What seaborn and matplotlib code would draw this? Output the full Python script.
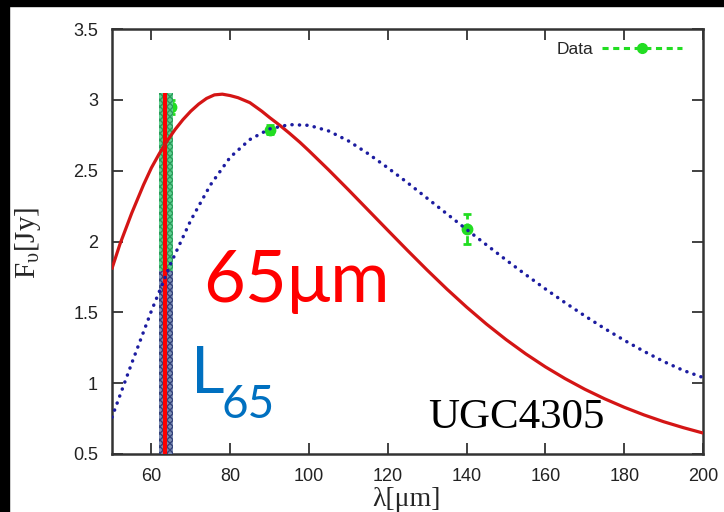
import matplotlib
matplotlib.use("Agg")
import matplotlib.pyplot as plt
from matplotlib.lines import Line2D
from matplotlib.patches import Rectangle
import seaborn as sns
import pandas as pd

# ---- data ----
red_wl = [50, 52, 55, 58, 60, 62, 64, 66, 68, 70, 72, 74, 76, 78, 80, 82, 85, 88, 90, 92.6,
          95, 97.7, 100, 105, 110, 115, 120, 125, 130, 135, 140, 145, 150, 155, 160, 165,
          170, 175, 180, 185, 190, 195, 200]
red_flux = [1.81, 1.98, 2.20, 2.40, 2.52, 2.62, 2.71, 2.79, 2.86, 2.92, 2.97, 3.01, 3.035,
            3.04, 3.03, 3.015, 2.98, 2.92, 2.875, 2.82, 2.765, 2.70, 2.64, 2.505, 2.365,
            2.222, 2.079, 1.937, 1.798, 1.664, 1.537, 1.418, 1.308, 1.207, 1.115, 1.032,
            0.957, 0.890, 0.830, 0.776, 0.728, 0.686, 0.648]

blue_wl = [50, 55, 60, 65, 70, 75, 80, 85, 90, 95, 100, 105, 110, 115, 120, 125, 130, 135,
           140, 145, 150, 155, 160, 165, 170, 175, 180, 185, 190, 195, 200]
blue_flux = [0.76, 1.14, 1.51, 1.85, 2.15, 2.40, 2.595, 2.72, 2.795, 2.825, 2.82, 2.78, 2.71,
             2.62, 2.52, 2.415, 2.305, 2.195, 2.085, 1.977, 1.870, 1.766, 1.665, 1.568,
             1.475, 1.386, 1.303, 1.225, 1.153, 1.090, 1.040]

data_wl = [65, 90, 140]
data_flux = [2.95, 2.79, 2.09]
data_err = [0.05, 0.03, 0.105]

band_center = 63.7
band_width = 3.6
band_top = 3.05
band_split = 1.79
band_bottom = 0.5
line_wl = 63.5

x_ticks = [60, 80, 100, 120, 140, 160, 180, 200]
y_ticks = [0.5, 1, 1.5, 2, 2.5, 3, 3.5]
y_tick_labels = ["0.5", "1", "1.5", "2", "2.5", "3", "3.5"]

# ---- style ----
sns.set_style("ticks")
plt.rcParams["font.family"] = ["Liberation Sans", "DejaVu Sans"]
plt.rcParams["mathtext.fontset"] = "custom"
plt.rcParams["mathtext.rm"] = "Liberation Serif"
plt.rcParams["mathtext.it"] = "Liberation Serif:italic"

fig = plt.figure(figsize=(7.24, 5.12), dpi=100, facecolor="white")
ax = fig.add_axes([112 / 724, 1 - 454 / 512, (703 - 112) / 724, (454 - 29) / 512])

# black frame strips (top and left)
fig.patches.append(Rectangle((0, 1 - 6 / 512), 1, 6 / 512, transform=fig.transFigure,
                             color="black", zorder=10))
fig.patches.append(Rectangle((0, 0), 9 / 724, 1, transform=fig.transFigure,
                             color="black", zorder=10))

green = "#22dd22"

# data points (behind the band)
eb = ax.errorbar(data_wl, data_flux, yerr=data_err, fmt="o", color=green, ms=7.5,
                 elinewidth=2, capsize=3, capthick=2, zorder=2)
eb[2][0].set_linestyle((0, (3, 1.5)))

# band
ax.bar(band_center, band_top - band_split, bottom=band_split, width=band_width,
       color="#5fd090", edgecolor="#2a9a5a", hatch="xxxxx", linewidth=0, zorder=3)
ax.bar(band_center, band_split - band_bottom, bottom=band_bottom, width=band_width,
       color="#7f8fb5", edgecolor="#34427a", hatch="xxxxx", linewidth=0, zorder=3)
ax.vlines(line_wl, band_bottom, band_top, color="#ff0000", lw=3, zorder=4)

# curves
df_red = pd.DataFrame({"wl": red_wl, "flux": red_flux})
df_blue = pd.DataFrame({"wl": blue_wl, "flux": blue_flux})
sns.lineplot(data=df_red, x="wl", y="flux", ax=ax, color="#d41515", lw=2.3, zorder=5,
             sort=True, estimator=None)
red_line = ax.lines[-1]
red_line.set_solid_joinstyle("round")
sns.lineplot(data=df_blue, x="wl", y="flux", ax=ax, color="#1c1ca0", lw=2.5, zorder=5,
             sort=True, estimator=None)
blue_line = ax.lines[-1]
blue_line.set_linestyle((0, (0.05, 2.1)))
blue_line.set_dash_capstyle("round")

ax.set_xlim(50, 200)
ax.set_ylim(0.5, 3.5)
ax.set_xticks(x_ticks)
ax.set_yticks(y_ticks)
ax.set_yticklabels(y_tick_labels)
ax.tick_params(direction="in", length=8, width=1.3, color="#333333", top=True, right=True,
               labelsize=13, labelcolor="#222222", pad=10)
for s in ax.spines.values():
    s.set_color("#333333")
    s.set_linewidth(1.8)
    s.set_visible(True)
ax.set_xlabel("")
ax.set_ylabel("")

# axis titles
fig.text(406 / 724, 1 - 506 / 512, "λ[μm]", family=["Liberation Serif"], fontsize=20,
         ha="center", va="baseline")
fig.text(28 / 724, 1 - 243 / 512, r"F$_{\mathrm{υ}}$[Jy]", family=["Liberation Serif"],
         fontsize=21, ha="center", va="center", rotation=90)

# legend
handle = Line2D([], [], color=green, ls=(0, (2, 1.5)), lw=2.2, marker="o", ms=7)
ax.legend([handle], ["Data"], loc="upper right", bbox_to_anchor=(0.982, 0.995),
          frameon=False, markerfirst=False, fontsize=12.5, handlelength=4.6,
          handletextpad=0.5, borderaxespad=0.2)

# annotations
fig.text(203 / 724, 1 - 302 / 512, "65μm", color="#ff0000", fontsize=52,
         family=["Lato", "DejaVu Sans"], ha="left", va="baseline")
fig.text(191 / 724, 1 - 393 / 512, "L", color="#0070c0", fontsize=47,
         family=["Lato", "DejaVu Sans"], ha="left", va="baseline")
fig.text(222 / 724, 1 - 418 / 512, "65", color="#0070c0", fontsize=33,
         family=["Lato", "DejaVu Sans"], ha="left", va="baseline")
fig.text(428 / 724, 1 - 428 / 512, "UGC4305", color="black", fontsize=31,
         family=["Liberation Serif"], ha="left", va="baseline")

fig.savefig("out.png", dpi=100, facecolor="white")
